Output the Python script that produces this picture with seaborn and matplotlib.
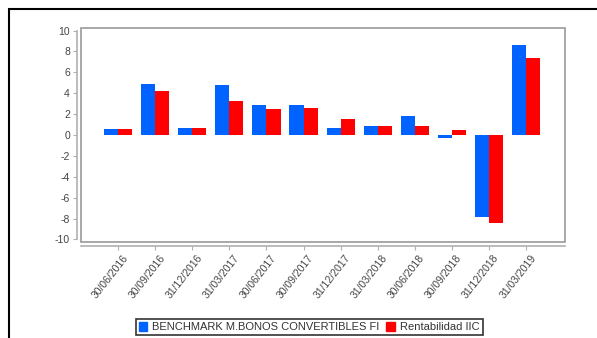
import matplotlib
matplotlib.use("Agg")
import matplotlib.pyplot as plt
import matplotlib.patches as mpatches
import matplotlib.transforms as mtransforms
import pandas as pd
import seaborn as sns

fechas = ["30/06/2016", "30/09/2016", "31/12/2016", "31/03/2017", "30/06/2017",
          "30/09/2017", "31/12/2017", "31/03/2018", "30/06/2018", "30/09/2018",
          "31/12/2018", "31/03/2019"]
benchmark = [0.55, 4.9, 0.65, 4.75, 2.87, 2.87, 0.64, 0.83, 1.79, -0.32, -7.88, 8.58]
rentabilidad = [0.58, 4.25, 0.65, 3.25, 2.45, 2.6, 1.53, 0.83, 0.83, 0.48, -8.45, 7.4]
series = ["BENCHMARK M.BONOS CONVERTIBLES FI", "Rentabilidad IIC"]
colores = ["#0062FF", "#FF0000"]
yticks = list(range(-10, 11, 2))

df = pd.DataFrame({
    "fecha": fechas * 2,
    "valor": benchmark + rentabilidad,
    "serie": [series[0]] * len(fechas) + [series[1]] * len(fechas),
})

sns.set_style("white")
plt.rcParams["font.family"] = ["Liberation Sans", "DejaVu Sans"]
plt.rcParams["axes.unicode_minus"] = False

fig = plt.figure(figsize=(5.97, 3.38), dpi=100)
W, H = 597, 338
ax = fig.add_axes([81 / W, 1 - 242 / H, (565 - 81) / W, (242 - 28) / H])

sns.barplot(data=df, x="fecha", y="valor", hue="serie", palette=colores,
            width=0.76, linewidth=0, saturation=1, ax=ax, legend=False)

grey = "#999999"
ax.set_xlim(-1.0, len(fechas) - 1 + 1.05)
ax.set_ylim(-10.25, 10.25)
ax.set_yticks(yticks)
ax.set_xlabel("")
ax.set_ylabel("")

# plot box
ax.add_patch(mpatches.Rectangle((0, 0), 1, 1, transform=ax.transAxes, fill=False,
                                edgecolor=grey, lw=1.2, clip_on=False, zorder=5))
for s in ["top", "right"]:
    ax.spines[s].set_visible(False)
for s in ["left", "bottom"]:
    ax.spines[s].set_visible(True)
    ax.spines[s].set_color("#b0b0b0")
    ax.spines[s].set_linewidth(1.2)
    ax.spines[s].set_position(("outward", 3))
ax.spines["left"].set_bounds(-10, 10)

ax.tick_params(axis="both", which="both", length=3, width=0.8, color="#b0b0b0",
               labelsize=7.5, labelcolor="#444444", pad=2,
               left=True, bottom=True)
shift = mtransforms.ScaledTranslation(4 / 100, 0, fig.dpi_scale_trans)
for lbl in ax.get_xticklabels():
    lbl.set_rotation(52)
    lbl.set_ha("right")
    lbl.set_rotation_mode("anchor")
    lbl.set_transform(lbl.get_transform() + shift)

# outer frame
fig.patches.append(mpatches.Rectangle((9 / W, -0.2), 1.2, 1.2 - 9 / H,
                                      transform=fig.transFigure, fill=False,
                                      edgecolor="black", lw=1.5))

handles = [mpatches.Patch(color=c, label=l) for c, l in zip(colores, series)]
leg = fig.legend(handles=handles, loc="lower center", bbox_to_anchor=(0.518, -0.008),
                 ncol=2, frameon=True, fancybox=False, edgecolor="black",
                 fontsize=8, handlelength=0.75, handleheight=0.85,
                 handletextpad=0.5, columnspacing=0.6, borderpad=0.25,
                 labelcolor="#333333")
leg.get_frame().set_linewidth(1.2)

fig.savefig("out.png", dpi=100)
